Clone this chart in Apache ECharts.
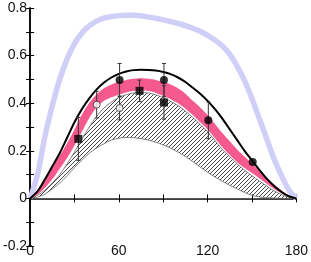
<!DOCTYPE html>
<html><head><meta charset="utf-8">
<script src="https://cdn.jsdelivr.net/npm/echarts@6/dist/echarts.min.js"></script>
<style>html,body{margin:0;padding:0;background:#fff}#c{width:311px;height:262px}</style>
</head><body><div id="c"></div>
<script>
// shared x grid (degrees) for all curves
const xs = [0,5,10,15,20,25,30,35,40,45,50,55,60,65,70,75,80,85,90,95,100,105,110,115,120,125,130,135,140,145,150,155,160,165,170,175,180];
const blueBand =    [0,0.10,0.26,0.39,0.50,0.585,0.65,0.695,0.725,0.745,0.757,0.764,0.768,0.77,0.77,0.767,0.762,0.757,0.75,0.743,0.735,0.726,0.715,0.702,0.685,0.665,0.64,0.605,0.555,0.495,0.42,0.335,0.25,0.165,0.095,0.035,0];
const blackCurve =  [0,0.03,0.08,0.135,0.19,0.255,0.32,0.375,0.42,0.458,0.487,0.508,0.523,0.533,0.539,0.541,0.54,0.537,0.531,0.522,0.508,0.489,0.465,0.44,0.41,0.375,0.335,0.29,0.245,0.2,0.16,0.12,0.083,0.052,0.027,0.009,0];
const pinkTop =     [0,0.035,0.085,0.13,0.18,0.232,0.29,0.352,0.402,0.438,0.463,0.479,0.49,0.498,0.503,0.505,0.503,0.498,0.49,0.479,0.463,0.44,0.41,0.382,0.35,0.313,0.275,0.24,0.205,0.175,0.148,0.115,0.085,0.058,0.033,0.013,0];
const pinkBottom =  [0,0.015,0.045,0.08,0.125,0.17,0.222,0.28,0.338,0.383,0.41,0.425,0.436,0.445,0.451,0.453,0.451,0.443,0.43,0.417,0.40,0.377,0.35,0.32,0.29,0.253,0.215,0.182,0.152,0.128,0.107,0.085,0.062,0.04,0.022,0.008,0];
const hatchTop =    [0,0.012,0.035,0.065,0.10,0.145,0.195,0.25,0.30,0.345,0.38,0.405,0.424,0.436,0.443,0.445,0.443,0.435,0.423,0.408,0.39,0.367,0.34,0.31,0.28,0.243,0.205,0.175,0.145,0.118,0.095,0.073,0.052,0.032,0.016,0.005,0];
const hatchBottom = [0,0.005,0.018,0.04,0.065,0.095,0.13,0.16,0.19,0.212,0.23,0.245,0.253,0.256,0.255,0.251,0.245,0.236,0.225,0.211,0.195,0.176,0.155,0.132,0.11,0.09,0.072,0.055,0.04,0.025,0.013,0.006,0.003,0.001,0,0,0];
// data points: [x, y, error]
const filledCircles = [[60.5,0.497,0.07],[90.5,0.497,0.07],[120.5,0.328,0.077],[150.5,0.153,0]];
const filledSquares = [[32.6,0.25,0.09],[74,0.452,0.045],[90.5,0.403,0.07]];
const openCircles =   [[45,0.394,0.056],[60.5,0.38,0.05]];
const xTicks = [0,60,120,180];

const pc = document.createElement('canvas'); pc.width = 4; pc.height = 4;
const g = pc.getContext('2d'); g.strokeStyle = '#333'; g.lineWidth = 0.9;
g.beginPath(); g.moveTo(0,4); g.lineTo(4,0); g.moveTo(-1,1); g.lineTo(1,-1); g.moveTo(3,5); g.lineTo(5,3); g.stroke();

const pair = (a) => xs.map((x,i)=>[x,a[i]]);
const font = {fontFamily:'"Liberation Sans",Arial,sans-serif', fontSize:14, color:'#111'};

// band between two curves, drawn as one polygon through the axes' scales
function bandSeries(upper, lower, fill, stroke, z){
  return {type:'custom', z:z, data:[[0,0]], renderItem:(params, api)=>{
    const up = xs.map((x,i)=>api.coord([x,upper[i]]));
    const lo = xs.map((x,i)=>api.coord([x,lower[i]])).reverse();
    const children = [{type:'polygon', shape:{points:up.concat(lo), smooth:0.3}, style:{fill:fill, stroke:'none'}}];
    if (stroke) {
      children.push({type:'polyline', shape:{points:up, smooth:0.3}, style:{stroke:stroke, lineWidth:0.8, fill:'none'}});
      children.push({type:'polyline', shape:{points:lo, smooth:0.3}, style:{stroke:stroke, lineWidth:0.8, fill:'none'}});
    }
    return {type:'group', children:children};
  }};
}

const chart = echarts.init(document.getElementById('c'), null, {renderer:'canvas'});
const errData = filledCircles.concat(filledSquares, openCircles).filter(p=>p[2]>0);
chart.setOption({
  animation:false,
  grid:{left:24,right:11,top:8,bottom:16},
  xAxis:[{type:'value',min:0,max:180,interval:30,position:'bottom',
    axisLine:{lineStyle:{color:'#000',width:1.5}},
    axisTick:{inside:true,length:4,lineStyle:{color:'#000'}},
    splitLine:{show:false},
    axisLabel:Object.assign({margin:-2,verticalAlign:'top',formatter:v=>xTicks.indexOf(v)>=0?String(v):''},font)},
    {type:'value',min:0,max:180,interval:30,position:'top',
    axisLine:{lineStyle:{color:'#555',width:1}},
    axisTick:{inside:true,length:4,lineStyle:{color:'#000'}},
    splitLine:{show:false},axisLabel:{show:false}}],
  yAxis:[{type:'value',min:-0.2,max:0.8,interval:0.1,position:'left',
    axisLine:{show:true,lineStyle:{color:'#000',width:1.5}},
    axisTick:{show:true,inside:true,length:4,lineStyle:{color:'#000'}},
    splitLine:{show:false},
    axisLabel:Object.assign({margin:3,formatter:v=>(Math.round(v*10)%2===0)?String(Math.round(v*10)/10):''},font)},
    {type:'value',min:-0.2,max:0.8,interval:0.1,position:'right',
    axisLine:{show:true,lineStyle:{color:'#000',width:1.5}},
    axisTick:{show:true,inside:true,length:4,lineStyle:{color:'#000'}},
    splitLine:{show:false},axisLabel:{show:false}}],
  series:[
    {type:'line',data:pair(blueBand),smooth:0.3,symbol:'none',lineStyle:{color:'#cfcff8',width:5.5},z:1},
    bandSeries(hatchTop, hatchBottom, {image:pc, repeat:'repeat'}, '#666', 2),
    bandSeries(pinkTop, pinkBottom, '#f55a8f', null, 3),
    {type:'line',data:pair(blackCurve),smooth:0.3,symbol:'none',lineStyle:{color:'#000',width:2},z:4},
    {type:'custom',z:5,data:errData,renderItem:(params,api)=>{
      const x=api.value(0),y=api.value(1),e=api.value(2);
      const t=api.coord([x,y+e]),b=api.coord([x,y-e]);const w=2;const st={stroke:'#333',lineWidth:1};
      return {type:'group',children:[
        {type:'line',shape:{x1:t[0],y1:t[1],x2:b[0],y2:b[1]},style:st},
        {type:'line',shape:{x1:t[0]-w,y1:t[1],x2:t[0]+w,y2:t[1]},style:st},
        {type:'line',shape:{x1:b[0]-w,y1:b[1],x2:b[0]+w,y2:b[1]},style:st}]};
    }},
    {type:'scatter',z:6,data:filledCircles.map(p=>[p[0],p[1]]),symbol:'circle',symbolSize:8,itemStyle:{color:'#000'}},
    {type:'scatter',z:6,data:filledSquares.map(p=>[p[0],p[1]]),symbol:'rect',symbolSize:8,itemStyle:{color:'#000'}},
    {type:'scatter',z:6,data:openCircles.map(p=>[p[0],p[1]]),symbol:'circle',symbolSize:7,itemStyle:{color:'#fff',borderColor:'#333',borderWidth:1}}
  ]
});
</script></body></html>
